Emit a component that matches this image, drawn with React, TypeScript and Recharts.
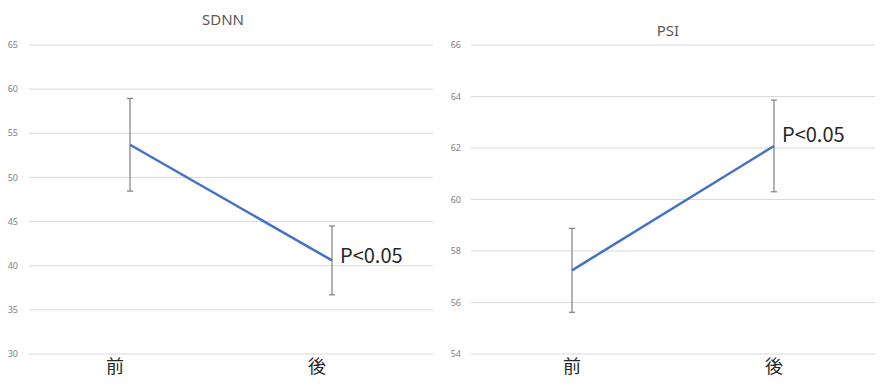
import React from 'react';
import { LineChart, Line, XAxis, YAxis, CartesianGrid, ErrorBar, LabelList } from 'recharts';

const categories = ['前', '後'];
const sdnnMean = [53.7, 40.6];
const sdnnErr = [5.25, 3.9];
const psiMean = [57.25, 62.08];
const psiErr = [1.63, 1.78];
const sdnnTicks = [30, 35, 40, 45, 50, 55, 60, 65];
const psiTicks = [54, 56, 58, 60, 62, 64, 66];
const sigLabel = 'P<0.05';

const sdnnData = categories.map((c, i) => ({ name: c, value: sdnnMean[i], err: sdnnErr[i] }));
const psiData = categories.map((c, i) => ({ name: c, value: psiMean[i], err: psiErr[i] }));

const makeSig = (dx: number, dy: number) => (props: any) => {
  const { x, y, index } = props;
  if (index !== 1) return null;
  return (
    <text x={x + dx} y={y + dy} fill="#262626" fontSize={20} fontFamily="'Noto Sans CJK JP', 'Noto Sans', sans-serif" dominantBaseline="central">
      {sigLabel}
    </text>
  );
};

type PanelProps = {
  data: any[];
  ticks: number[];
  domain: [number, number];
  width: number;
  marginLeft: number;
  marginRight: number;
  yAxisWidth: number;
  tickGap: number;
  labelDx: number;
  sigDx: number;
  sigDy: number;
};

const Panel = (p: PanelProps) => {
  const plotW = p.width - p.marginLeft - p.marginRight - p.yAxisWidth;
  const pad = plotW / 4;
  return (
    <LineChart width={p.width} height={392} data={p.data} margin={{ top: 45, right: p.marginRight, bottom: 8, left: p.marginLeft }}>
      <CartesianGrid vertical={false} stroke="#d9d9d9" strokeWidth={1} />
      <XAxis
        dataKey="name"
        axisLine={false}
        tickLine={false}
        tickSize={0}
        tickMargin={6}
        height={30}
        padding={{ left: pad, right: pad }}
        tick={{ fill: '#262626', fontSize: 18, fontFamily: "'Noto Sans CJK JP', sans-serif", dx: p.labelDx }}
      />
      <YAxis
        domain={p.domain}
        ticks={p.ticks}
        interval={0}
        axisLine={false}
        tickLine={false}
        tickSize={0}
        tickMargin={p.tickGap}
        width={p.yAxisWidth}
        tick={{ fill: '#7f7f7f', fontSize: 9, fontFamily: "'Noto Sans', sans-serif" }}
      />
      <Line type="linear" dataKey="value" stroke="#4472C4" strokeWidth={2.5} dot={false} isAnimationActive={false}>
        <ErrorBar dataKey="err" direction="y" width={3} stroke="#7f7f7f" strokeWidth={1.2} isAnimationActive={false} />
        <LabelList dataKey="value" content={makeSig(p.sigDx, p.sigDy)} />
      </Line>
    </LineChart>
  );
};

const titleStyle: React.CSSProperties = {
  position: 'absolute',
  fontFamily: "'Noto Sans', sans-serif",
  fontSize: 15,
  color: '#595959',
  transform: 'translate(-50%, -50%)',
  whiteSpace: 'nowrap',
};

export default function App() {
  return (
    <div style={{ position: 'absolute', left: 0, top: 0, width: 882, height: 392, background: '#fff', overflow: 'hidden' }}>
      <div style={{ position: 'absolute', left: 0, top: 0 }}>
        <Panel data={sdnnData} ticks={sdnnTicks} domain={[30, 65]} width={440} marginLeft={0} marginRight={7} yAxisWidth={29} tickGap={11} labelDx={-15} sigDx={8} sigDy={-6} />
      </div>
      <div style={{ position: 'absolute', left: 440, top: 0 }}>
        <Panel data={psiData} ticks={psiTicks} domain={[54, 66]} width={442} marginLeft={0} marginRight={7} yAxisWidth={31} tickGap={10} labelDx={0} sigDx={8} sigDy={-12} />
      </div>
      <div style={{ ...titleStyle, left: 223, top: 19 }}>SDNN</div>
      <div style={{ ...titleStyle, left: 668, top: 30 }}>PSI</div>
    </div>
  );
}
